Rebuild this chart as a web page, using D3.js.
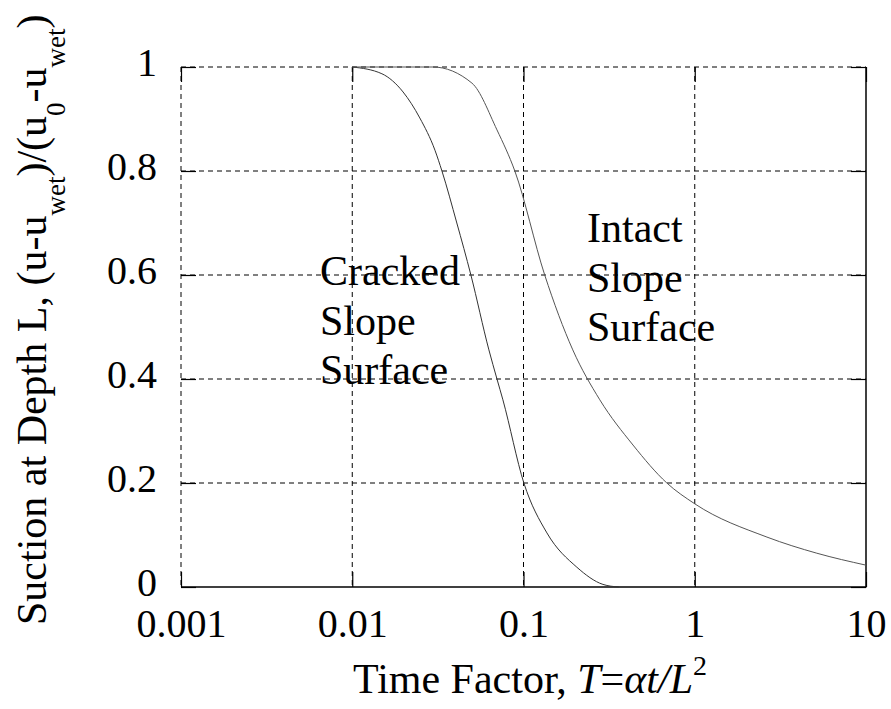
<!DOCTYPE html>
<html>
<head>
<meta charset="utf-8">
<script src="https://cdn.jsdelivr.net/npm/d3@7"></script>
<style>
  body { margin: 0; background: #fff; }
  svg text { font-family: "Liberation Serif", "DejaVu Serif", serif; fill: #000; }
</style>
</head>
<body>
<div id="chart"></div>
<script>
var width = 891,
    height = 709;
var margin = {left: 181, right: 25, top: 67, bottom: 122};
var fontFam = '"Liberation Serif", "DejaVu Serif", serif';

// values
var xTicks = [0.001, 0.01, 0.1, 1, 10];
var xTickLabels = ['0.001', '0.01', '0.1', '1', '10'];
var yTicks = [0, 0.2, 0.4, 0.6, 0.8, 1];
var yTickLabels = ['0', '0.2', '0.4', '0.6', '0.8', '1'];

var crackedT = [0.01, 0.0149, 0.0198, 0.0248, 0.0304, 0.0334, 0.0408, 0.0493, 0.0628, 0.070, 0.0758, 0.1005, 0.137, 0.205, 0.291, 0.36];
var crackedS = [1, 0.987, 0.952, 0.902, 0.840, 0.80, 0.70, 0.60, 0.456, 0.40, 0.36, 0.20, 0.104, 0.038, 0.005, 0];

var intactT = [0.01, 0.0296, 0.05, 0.07, 0.089, 0.133, 0.194, 0.279, 0.436, 0.687, 1.0, 2.64, 5.16, 10];
var intactS = [1, 1, 0.969, 0.879, 0.80, 0.60, 0.456, 0.36, 0.273, 0.20, 0.16, 0.096, 0.065, 0.042];

var plotW = width - margin.left - margin.right,
    plotH = height - margin.top - margin.bottom;

var x = d3.scaleLog().domain([0.001, 10]).range([0, plotW]);
var y = d3.scaleLinear().domain([0, 1]).range([plotH, 0]);

var svg = d3.select('#chart').append('svg')
    .attr('width', width)
    .attr('height', height)
    .attr('font-family', fontFam);

var g = svg.append('g')
    .attr('transform', 'translate(' + margin.left + ',' + margin.top + ')');

// dashed grid
g.selectAll('.grid-x')
  .data(xTicks.slice(0, -1))
  .enter().append('line')
    .attr('class', 'grid-x')
    .attr('x1', function(d) { return x(d); })
    .attr('x2', function(d) { return x(d); })
    .attr('y1', 0)
    .attr('y2', plotH)
    .attr('stroke', '#000')
    .attr('stroke-width', 1)
    .attr('stroke-dasharray', '5,4');

g.selectAll('.grid-y')
  .data(yTicks.slice(1))
  .enter().append('line')
    .attr('class', 'grid-y')
    .attr('x1', 0)
    .attr('x2', plotW)
    .attr('y1', function(d) { return y(d); })
    .attr('y2', function(d) { return y(d); })
    .attr('stroke', '#000')
    .attr('stroke-width', 1)
    .attr('stroke-dasharray', '5,4');

// axes with inward ticks
var xAxis = g.append('g')
    .attr('transform', 'translate(0,' + plotH + ')')
    .call(d3.axisBottom(x).tickValues(xTicks).tickSize(-15).tickPadding(22)
      .tickFormat(function(d, i) { return xTickLabels[i]; }));

var xAxisTop = g.append('g')
    .call(d3.axisTop(x).tickValues(xTicks).tickSize(-15).tickFormat(''));

var yAxis = g.append('g')
    .call(d3.axisLeft(y).tickValues(yTicks).tickSize(-15).tickPadding(24)
      .tickFormat(function(d, i) { return yTickLabels[i]; }));

var yAxisRight = g.append('g')
    .attr('transform', 'translate(' + plotW + ',0)')
    .call(d3.axisRight(y).tickValues(yTicks).tickSize(-15).tickFormat(''));

[xAxis, xAxisTop, yAxis, yAxisRight].forEach(function(a) {
  a.attr('font-family', fontFam).attr('font-size', 40);
  a.select('.domain').remove();
  a.selectAll('.tick line').attr('stroke', '#000').attr('stroke-width', 1.2);
  a.selectAll('.tick text').attr('fill', '#000');
});
yAxis.selectAll('.tick text').attr('dy', '0.22em');

// solid bottom and right frame
g.append('line')
    .attr('x1', 0).attr('x2', plotW + 0.5)
    .attr('y1', plotH).attr('y2', plotH)
    .attr('stroke', '#000').attr('stroke-width', 1.5);
g.append('line')
    .attr('x1', plotW).attr('x2', plotW)
    .attr('y1', 0).attr('y2', plotH)
    .attr('stroke', '#000').attr('stroke-width', 1.5);

// curves
var line = d3.line()
    .x(function(d) { return x(d[0]); })
    .y(function(d) { return y(d[1]); })
    .curve(d3.curveMonotoneX);

g.append('path')
    .datum(d3.zip(crackedT, crackedS))
    .attr('fill', 'none')
    .attr('stroke', '#333')
    .attr('stroke-width', 1)
    .attr('d', line);

g.append('path')
    .datum(d3.zip(intactT, intactS))
    .attr('fill', 'none')
    .attr('stroke', '#555')
    .attr('stroke-width', 1)
    .attr('d', line);

// annotations
function addLabel(lines, px, py) {
  var t = svg.append('text')
      .attr('font-size', 42);
  lines.forEach(function(s, i) {
    t.append('tspan')
      .attr('x', px)
      .attr('y', py + i * 49.5)
      .text(s);
  });
}
addLabel(['Cracked', 'Slope', 'Surface'], 320, 285);
addLabel(['Intact', 'Slope', 'Surface'], 587, 242);

// x title
var xt = svg.append('text')
    .attr('x', 530)
    .attr('y', 693)
    .attr('text-anchor', 'middle')
    .attr('font-size', 42);
xt.append('tspan').text('Time Factor, ');
xt.append('tspan').attr('font-style', 'italic').text('T');
xt.append('tspan').text('=');
xt.append('tspan').attr('font-style', 'italic').text('\u03b1t/L');
xt.append('tspan').attr('font-size', 28).attr('dy', -18).text('2');

// y title
var yt = svg.append('text')
    .attr('transform', 'translate(46,625) rotate(-90)')
    .attr('x', 0)
    .attr('y', 0)
    .attr('font-size', 42);
yt.append('tspan').text('Suction at Depth L, (u-u');
yt.append('tspan').attr('font-size', 27).attr('dy', 19).text('wet');
yt.append('tspan').attr('dy', -19).text(')/(u');
yt.append('tspan').attr('font-size', 27).attr('dy', 19).text('0');
yt.append('tspan').attr('dy', -19).text('-u');
yt.append('tspan').attr('font-size', 27).attr('dy', 19).text('wet');
yt.append('tspan').attr('dy', -19).text(')');
</script>
</body>
</html>
